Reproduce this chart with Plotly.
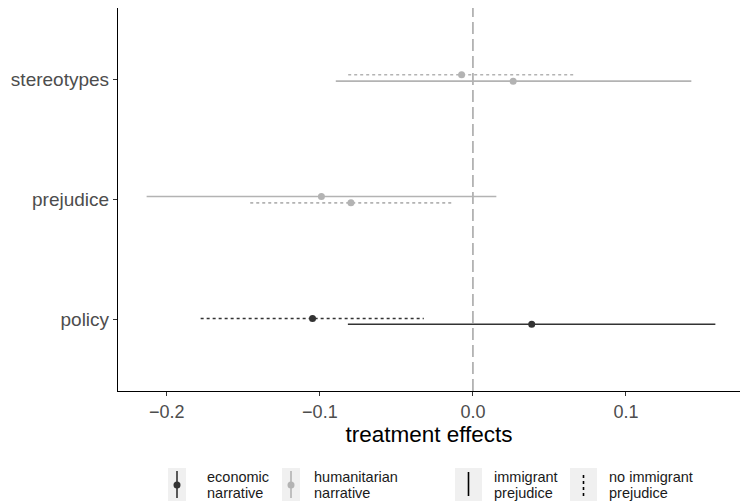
import plotly.graph_objects as go

# Outcomes on the vertical axis (bottom to top) and the narrative behind each
outcomes = ["policy", "prejudice", "stereotypes"]
narrative = ["economic", "humanitarian", "humanitarian"]

# Treatment effects for respondents with immigrant prejudice (solid)
imm_est = [0.0384, -0.0990, 0.0263]
imm_lo = [-0.0817, -0.2132, -0.0896]
imm_hi = [0.1584, 0.0153, 0.1427]
imm_jitter = [-0.042, 0.025, -0.011]

# Treatment effects for respondents without immigrant prejudice (dotted)
noimm_est = [-0.1048, -0.0797, -0.0074]
noimm_lo = [-0.1779, -0.1455, -0.0815]
noimm_hi = [-0.0321, -0.0141, 0.0670]
noimm_jitter = [0.006, -0.028, 0.042]

x_ticks = [-0.2, -0.1, 0.0, 0.1]

COLORS = {"economic": "#333333", "humanitarian": "#b3b3b3"}
DASH = {"solid": "solid", "dotted": "3px,3px"}

W, H = 740, 504
L, R, T, B = 118, 0, 8, 113

fig = go.Figure()

# reference line at zero
fig.add_shape(type="line", xref="x", yref="paper", x0=0, x1=0, y0=0, y1=1,
              line=dict(color="#a3a3a3", width=1.5, dash="12px,5px"), layer="below")


def add_group(est, lo, hi, jit, style):
    for narr in ["economic", "humanitarian"]:
        idx = [i for i, n in enumerate(narrative) if n == narr]
        xs, ys = [], []
        for i in idx:
            y = i + 1 + jit[i]
            xs += [lo[i], hi[i], None]
            ys += [y, y, None]
        fig.add_trace(go.Scatter(x=xs, y=ys, mode="lines", showlegend=False,
                                 hoverinfo="skip",
                                 line=dict(color=COLORS[narr], width=1.6,
                                           dash=DASH[style])))
        fig.add_trace(go.Scatter(x=[est[i] for i in idx],
                                 y=[i + 1 + jit[i] for i in idx],
                                 mode="markers", showlegend=False,
                                 marker=dict(color=COLORS[narr], size=7,
                                             line=dict(width=0))))


add_group(imm_est, imm_lo, imm_hi, imm_jitter, "solid")
add_group(noimm_est, noimm_lo, noimm_hi, noimm_jitter, "dotted")

# ---- legend drawn below the panel (pixel positions converted to paper) ----
ph = H - T - B
pw = W - L - R


def px(x):
    return (x - L) / pw


def py(y):
    return (H - B - y) / ph


shapes = []
annotations = []
legend_items = [
    # (box x0, box x1, text x, kind, color, dash, line1, line2)
    (168, 186, 205, "point", COLORS["economic"], "solid", "economic", "narrative"),
    (282, 300, 312, "point", COLORS["humanitarian"], "solid", "humanitarian", "narrative"),
    (455, 482, 492, "line", "#000000", "solid", "immigrant", "prejudice"),
    (570, 597, 607, "line", "#000000", "3px,3px", "no immigrant", "prejudice"),
]
for bx0, bx1, tx, kind, col, dash, l1, l2 in legend_items:
    shapes.append(dict(type="rect", xref="paper", yref="paper",
                       x0=px(bx0), x1=px(bx1), y0=py(501), y1=py(468),
                       fillcolor="#f0f0f0", line=dict(width=0)))
    cx = (bx0 + bx1) / 2
    if kind == "point":
        shapes.append(dict(type="line", xref="paper", yref="paper",
                           x0=px(cx), x1=px(cx), y0=py(498), y1=py(471),
                           line=dict(color=col, width=1.6)))
        shapes.append(dict(type="circle", xref="paper", yref="paper",
                           x0=px(cx - 3.5), x1=px(cx + 3.5),
                           y0=py(488.5), y1=py(481.5),
                           fillcolor=col, line=dict(width=0)))
    else:
        shapes.append(dict(type="line", xref="paper", yref="paper",
                           x0=px(cx), x1=px(cx), y0=py(496), y1=py(472),
                           line=dict(color=col, width=1.6, dash=dash)))
    for txt, yc in ((l1, 477), (l2, 493)):
        annotations.append(dict(text=txt, xref="paper", yref="paper",
                                x=px(tx), y=py(yc), xanchor="left",
                                yanchor="middle", showarrow=False,
                                font=dict(size=14.5, color="#1a1a1a")))

fig.update_layout(
    width=W, height=H,
    margin=dict(l=L, r=R, t=T, b=B),
    paper_bgcolor="white", plot_bgcolor="white",
    font=dict(family="Liberation Sans, Arial, sans-serif"),
    shapes=fig.layout.shapes + tuple(shapes),
    annotations=annotations,
    xaxis=dict(range=[-0.2319, 0.1745], tickvals=x_ticks,
               tickformat=".1f", showgrid=False, zeroline=False,
               showline=True, linecolor="#000000", linewidth=1.2,
               ticks="outside", ticklen=4, tickcolor="#333333",
               tickfont=dict(size=18, color="#4d4d4d"),
               title=dict(text="treatment effects",
                          font=dict(size=22.5, color="#000000"), standoff=2)),
    yaxis=dict(range=[0.4, 3.6], tickvals=[1, 2, 3], ticktext=outcomes,
               showgrid=False, zeroline=False,
               showline=True, linecolor="#000000", linewidth=1.2,
               ticks="outside", ticklen=4, tickcolor="#333333",
               tickfont=dict(size=19, color="#4d4d4d")),
)

fig.write_html("out.html")
